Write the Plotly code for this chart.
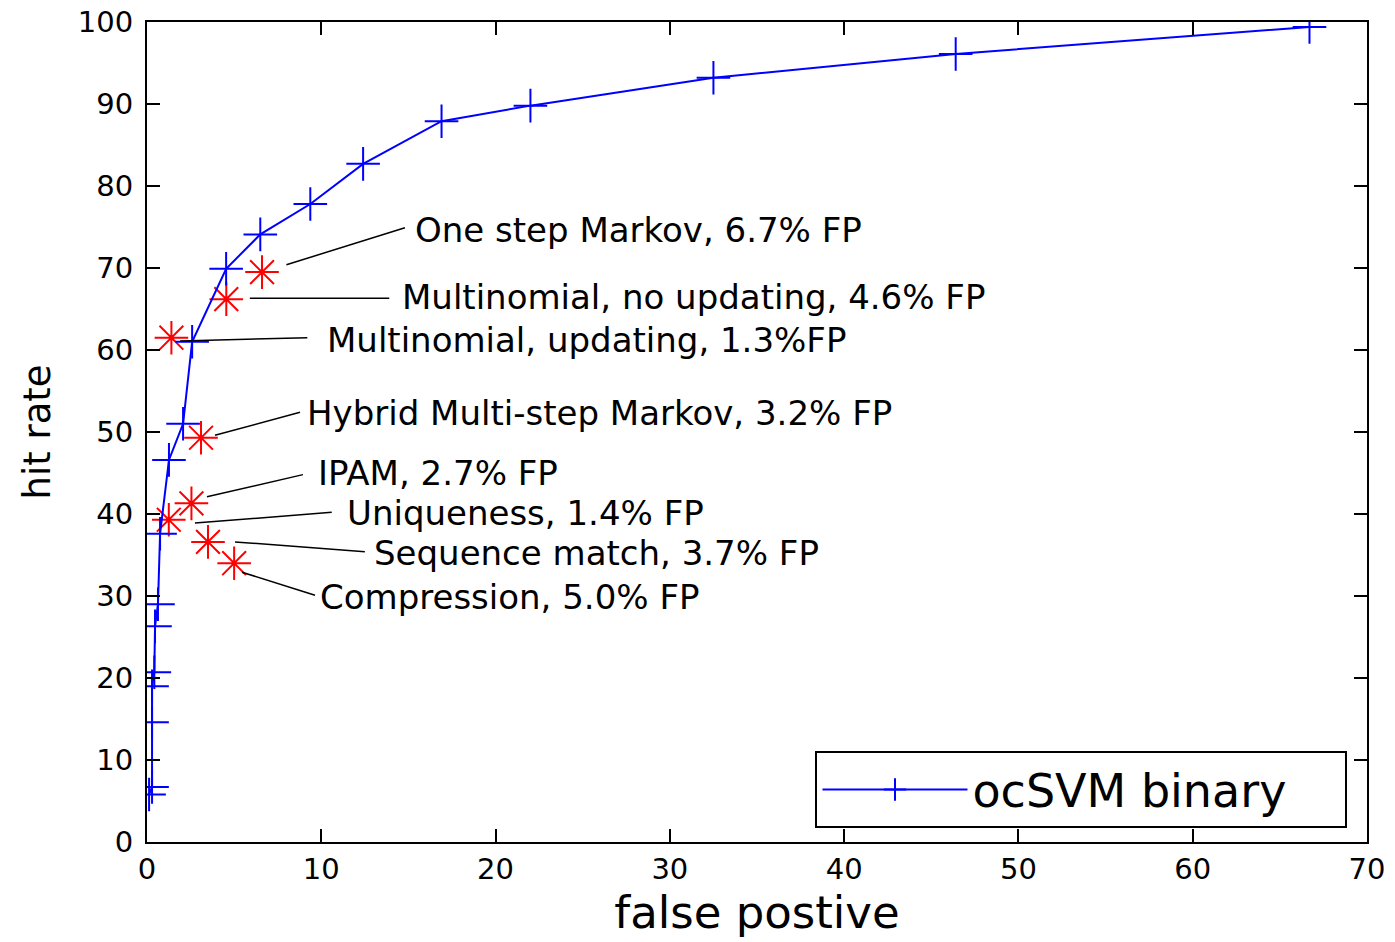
import plotly.graph_objects as go

# ocSVM binary ROC curve
svm_fp = [0.12, 0.29, 0.29, 0.29, 0.42, 0.46, 0.63, 0.75, 1.26, 2.07, 2.59, 4.54, 6.5, 9.37, 12.4, 16.9, 22.0, 32.5, 46.4, 66.7]
svm_hit = [5.8, 6.7, 14.6, 19.0, 20.7, 26.3, 29.0, 37.6, 46.6, 51.0, 61.0, 69.9, 74.1, 77.8, 82.7, 87.9, 89.8, 93.2, 96.1, 99.4]

# other methods (red stars)
method_names = [
    "One step Markov, 6.7% FP",
    "Multinomial, no updating, 4.6% FP",
    "Multinomial, updating, 1.3%FP",
    "Hybrid Multi-step Markov, 3.2% FP",
    "IPAM, 2.7% FP",
    "Uniqueness, 1.4% FP",
    "Sequence match, 3.7% FP",
    "Compression, 5.0% FP",
]
method_fp = [6.6, 4.55, 1.4, 3.1, 2.55, 1.25, 3.5, 5.0]
method_hit = [69.5, 66.2, 61.5, 49.3, 41.3, 39.3, 36.6, 34.0]

# label placement (data coords)
label_x = [15.26, 14.5, 10.2, 9.06, 9.7, 11.36, 12.9, 9.8]
label_y = [74.6, 66.5, 61.2, 52.3, 44.95, 40.1, 35.2, 29.9]
lead_start_x = [8.0, 5.9, 1.9, 3.9, 3.44, 2.75, 5.05, 5.45]
lead_start_y = [70.4, 66.3, 61.1, 49.6, 42.1, 38.9, 36.6, 32.9]
lead_end_x = [14.8, 13.9, 9.2, 8.78, 8.95, 10.6, 12.5, 9.64]
lead_end_y = [74.9, 66.3, 61.5, 52.4, 44.8, 40.2, 35.4, 30.1]

x_ticks = [0, 10, 20, 30, 40, 50, 60, 70]
y_ticks = [0, 10, 20, 30, 40, 50, 60, 70, 80, 90, 100]

FONT = "DejaVu Sans, sans-serif"

fig = go.Figure()
fig.add_trace(go.Scatter(
    x=method_fp, y=method_hit, mode="markers", showlegend=False,
    marker=dict(symbol="asterisk-open", size=28, color="red",
                line=dict(color="red", width=2)),
))
fig.add_trace(go.Scatter(
    x=svm_fp, y=svm_hit, mode="lines+markers", name="ocSVM binary",
    line=dict(color="blue", width=2),
    marker=dict(symbol="cross-thin-open", size=24, color="blue",
                line=dict(color="blue", width=2)),
))

for i, name in enumerate(method_names):
    fig.add_shape(type="line", xref="x", yref="y",
                  x0=lead_start_x[i], y0=lead_start_y[i],
                  x1=lead_end_x[i], y1=lead_end_y[i],
                  line=dict(color="black", width=1.5))
    fig.add_annotation(x=label_x[i], y=label_y[i], text=name, showarrow=False,
                       xanchor="left", yanchor="middle",
                       font=dict(family=FONT, size=34, color="black"))

axis_common = dict(
    showgrid=False, zeroline=False, showline=True, linecolor="black", linewidth=2,
    mirror="ticks", ticks="inside", ticklen=13, tickwidth=2, tickcolor="black",
    tickfont=dict(family=FONT, size=29, color="black"), automargin=False,
)

fig.update_xaxes(range=[0, 70], tickvals=x_ticks,
                 title=dict(text="false postive", font=dict(family=FONT, size=45, color="black"), standoff=12),
                 **axis_common)
fig.update_yaxes(range=[0, 100], tickvals=y_ticks, ticklabelstandoff=6,
                 title=dict(text="hit rate", font=dict(family=FONT, size=37, color="black"), standoff=16),
                 **axis_common)

fig.update_layout(
    width=1395, height=942,
    margin=dict(l=147, r=28, t=22, b=100),
    plot_bgcolor="white", paper_bgcolor="white",
    legend=dict(x=0.984, y=0.017, xanchor="right", yanchor="bottom",
                orientation="h",
                bordercolor="black", borderwidth=2, bgcolor="white",
                font=dict(family=FONT, size=46, color="black"),
                itemwidth=145, entrywidth=368),
)

fig.write_html("out.html")
